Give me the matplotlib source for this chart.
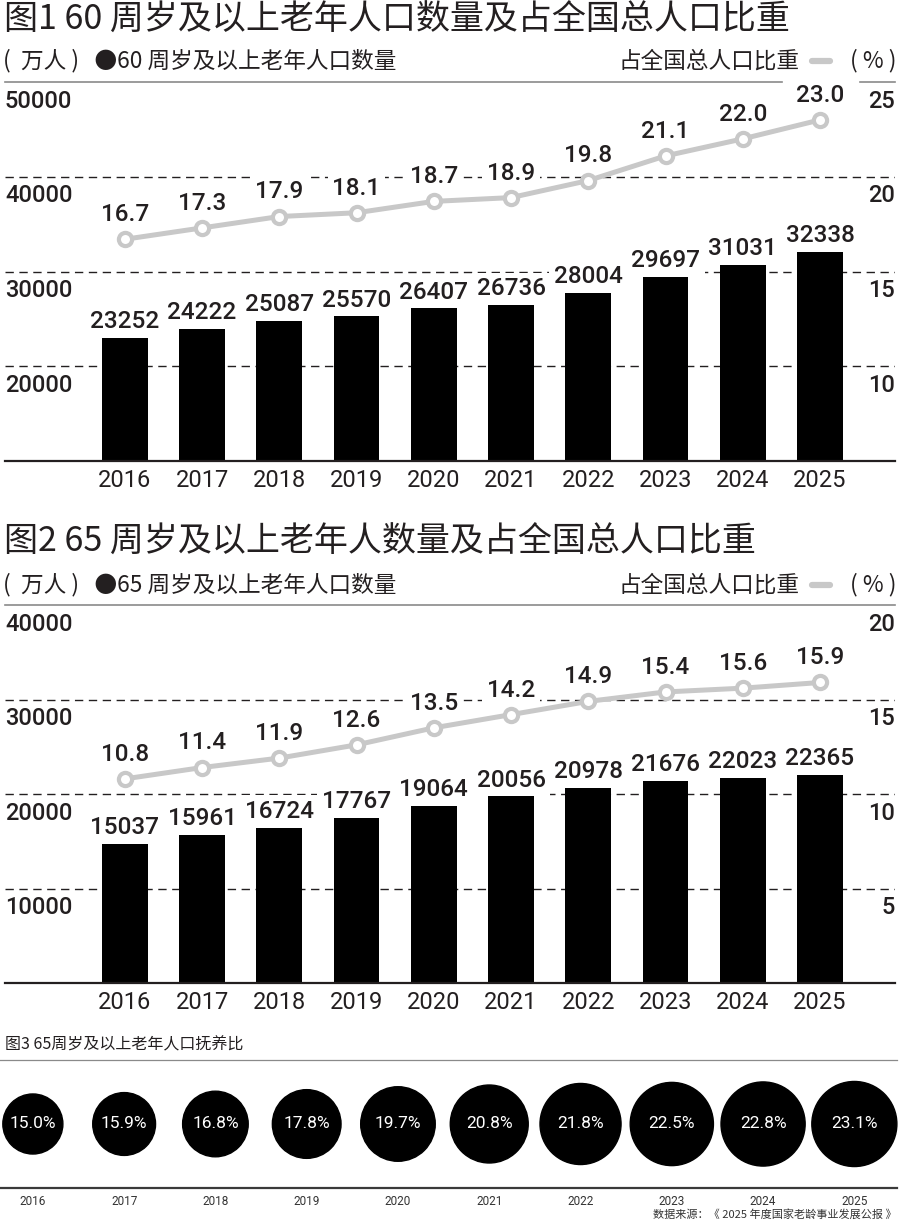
import matplotlib
matplotlib.use('Agg')
import matplotlib.pyplot as plt
from matplotlib.lines import Line2D

# DATA

years = ['2016', '2017', '2018', '2019', '2020', '2021', '2022', '2023', '2024', '2025']

pop60 = [23252, 24222, 25087, 25570, 26407, 26736, 28004, 29697, 31031, 32338]
share60 = [16.7, 17.3, 17.9, 18.1, 18.7, 18.9, 19.8, 21.1, 22.0, 23.0]

pop65 = [15037, 15961, 16724, 17767, 19064, 20056, 20978, 21676, 22023, 22365]
share65 = [10.8, 11.4, 11.9, 12.6, 13.5, 14.2, 14.9, 15.4, 15.6, 15.9]

dep65 = [15.0, 15.9, 16.8, 17.8, 19.7, 20.8, 21.8, 22.5, 22.8, 23.1]

left_ticks1 = [10000, 20000, 30000, 40000, 50000]
right_ticks1 = [5, 10, 15, 20, 25]
left_ticks2 = [0, 10000, 20000, 30000, 40000]
right_ticks2 = [0, 5, 10, 15, 20]

title1 = '图1 60 周岁及以上老年人口数量及占全国总人口比重'
title2 = '图2 65 周岁及以上老年人数量及占全国总人口比重'
title3 = '图3 65周岁及以上老年人口抚养比'
unit_left1 = '(  万人 )   ●60 周岁及以上老年人口数量'
unit_left2 = '(  万人 )   ●65 周岁及以上老年人口数量'
unit_right = '占全国总人口比重'
source = '数据来源：《 2025 年度国家老龄事业发展公报 》'

# STYLE

W, H = 900, 1226
INK = '#231f20'
LINE_GREY = '#c8c8c8'
RULE_GREY = '#8a8a8a'
CJK = ['Noto Sans CJK SC', 'DejaVu Sans']
NUM = ['Roboto', 'DejaVu Sans']

plt.rcParams['font.family'] = NUM


def fx(px):
    return px / W


def fy(py):
    return 1 - py / H


def draw_panel(fig, top, base, pops, shares, lticks, rticks, top_gap=None):
    ax = fig.add_axes([fx(5), fy(base), fx(890), (base - top) / H])
    ax.set_xlim(-1.55, 9.97)
    ax.set_ylim(lticks[0], lticks[-1])
    ax.axis('off')
    x = list(range(len(years)))

    ax.bar(x, pops, width=0.59, color='black', zorder=2)

    for t in lticks[1:-1]:
        ax.axhline(t, color=INK, lw=1, ls=(0, (6, 4)), zorder=1)
    if top_gap is None:
        ax.axhline(lticks[-1], color=RULE_GREY, lw=1.2, zorder=1, clip_on=False)
    else:
        ax.axhline(lticks[-1], xmin=0, xmax=top_gap[0], color=RULE_GREY, lw=1.2, zorder=1, clip_on=False)
        ax.axhline(lticks[-1], xmin=top_gap[1], xmax=1, color=RULE_GREY, lw=1.2, zorder=1, clip_on=False)
    ax.axhline(lticks[0], color=INK, lw=1.6, zorder=4, clip_on=False)

    for t in lticks[1:]:
        ax.annotate(str(t), xy=(0, t), xycoords=('axes fraction', 'data'),
                    xytext=(0, -5.5), textcoords='offset points',
                    ha='left', va='top', fontsize=17, fontweight='medium', color=INK)

    for i, v in enumerate(pops):
        ax.annotate(str(v), xy=(i, v), xytext=(0, 5), textcoords='offset points',
                    ha='center', va='baseline', fontsize=17.5, fontweight='medium',
                    color=INK, zorder=5,
                    bbox=dict(boxstyle='square,pad=0.2', fc='white', ec='none'))

    for i, y in enumerate(years):
        ax.annotate(y, xy=(i, lticks[0]), xytext=(0, -5.5), textcoords='offset points',
                    ha='center', va='top', fontsize=17, fontweight='normal', color=INK,
                    annotation_clip=False)

    ax2 = ax.twinx()
    ax2.set_ylim(rticks[0], rticks[-1])
    ax2.axis('off')
    ax2.plot(x, shares, color=LINE_GREY, lw=3.6, marker='o', ms=9.5, mfc='white',
             mec=LINE_GREY, mew=3, zorder=3, solid_capstyle='round')
    for i, v in enumerate(shares):
        ax2.annotate(f'{v:.1f}', xy=(i, v), xytext=(0, 13), textcoords='offset points',
                     ha='center', va='baseline', fontsize=17.5, fontweight='medium',
                     color=INK, zorder=2,
                     bbox=dict(boxstyle='square,pad=0.2', fc='white', ec='none'))
    for t in rticks[1:]:
        ax2.annotate(str(t), xy=(1, t), xycoords=('axes fraction', 'data'),
                     xytext=(0, -5.5), textcoords='offset points',
                     ha='right', va='top', fontsize=17, fontweight='medium', color=INK)
    return ax


def draw_header(fig, ytitle, yunit, title, unit_left):
    fig.text(fx(4), fy(ytitle), title, family=CJK, fontsize=24.5, fontweight='medium',
             color=INK, ha='left', va='center')
    fig.text(fx(3), fy(yunit), unit_left, family=CJK, fontsize=16.3, fontweight='light',
             color=INK, ha='left', va='center')
    fig.text(fx(800), fy(yunit), unit_right, family=CJK, fontsize=16.3, fontweight='light',
             color=INK, ha='right', va='center')
    fig.text(fx(897), fy(yunit), '( % )', family=CJK, fontsize=16.3, fontweight='light',
             color=INK, ha='right', va='center')
    fig.add_artist(Line2D([fx(812), fx(830)], [fy(yunit), fy(yunit)], color=LINE_GREY,
                          lw=4.5, solid_capstyle='round'))


fig = plt.figure(figsize=(W / 100, H / 100), dpi=100)
fig.patch.set_facecolor('white')

draw_header(fig, 20, 61, title1, unit_left1)
draw_panel(fig, 82, 461, pop60, share60, left_ticks1, right_ticks1,
           top_gap=((782 - 5) / 890, (860 - 5) / 890))

draw_header(fig, 542, 585, title2, unit_left2)
draw_panel(fig, 605, 983, pop65, share65, left_ticks2, right_ticks2)

# dependency ratio circles
fig.text(fx(5), fy(1045), title3, family=CJK, fontsize=11.5, fontweight='medium',
         color=INK, ha='left', va='center')
ax3 = fig.add_axes([0, fy(1188), 1, 128 / H])
ax3.set_xlim(-0.36, 9.5)
ax3.set_ylim(-1, 1)
ax3.axis('off')
ax3.axhline(1, xmax=0.997, color=RULE_GREY, lw=0.9, clip_on=False)
ax3.axhline(-1, xmax=0.997, color='#3a3a3a', lw=1.6, clip_on=False)
xs = list(range(len(years)))
sizes = [((13.7 + 3.09 * v) * 0.72) ** 2 for v in dep65]
ax3.scatter(xs, [0] * len(xs), s=sizes, color='black', zorder=3)
for i, v in enumerate(dep65):
    ax3.text(i, 0, f'{v:.1f}%', ha='center', va='center', fontsize=12.5,
             color='white', zorder=4)
    ax3.annotate(years[i], xy=(i, -1), xytext=(0, -5), textcoords='offset points',
                 ha='center', va='top', fontsize=8.5, color='#333333',
                 annotation_clip=False)

fig.text(fx(897), fy(1214), source, family=CJK, fontsize=8, color='#333333',
         ha='right', va='center')

fig.savefig('out.png', dpi=100, facecolor='white')
